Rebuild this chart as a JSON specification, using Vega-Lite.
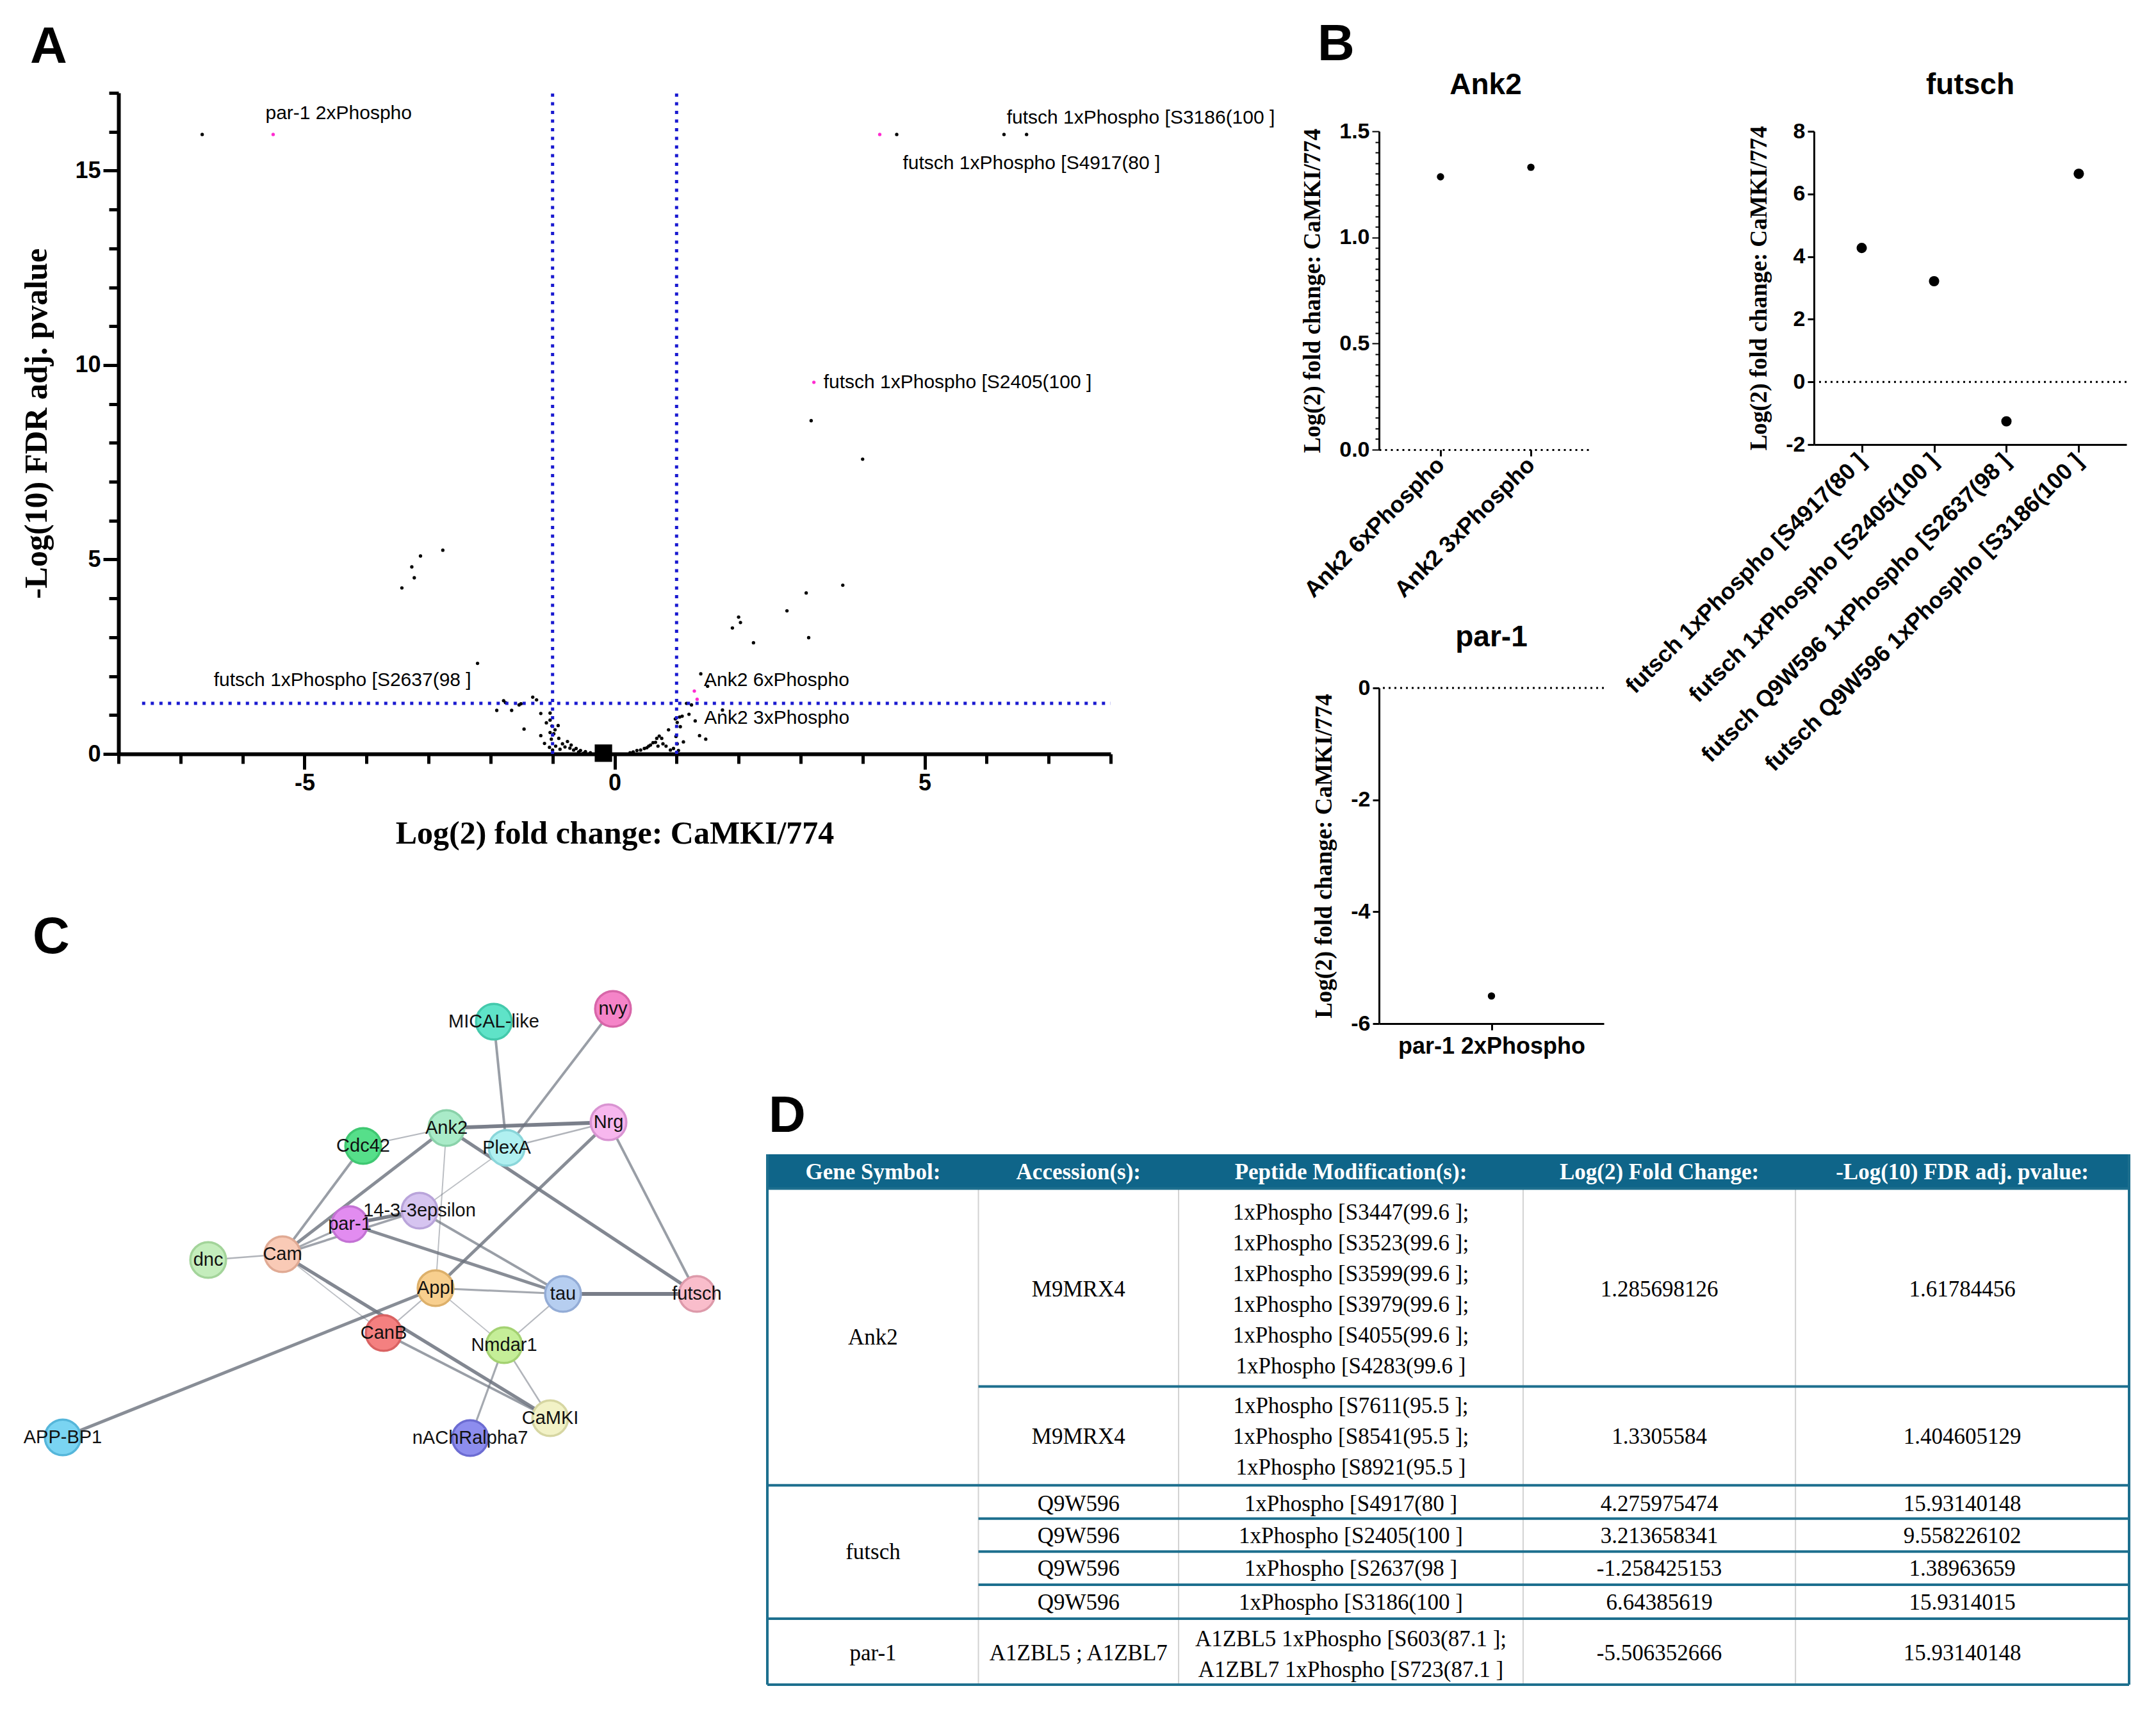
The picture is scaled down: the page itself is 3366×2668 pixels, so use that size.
{
"$schema": "https://vega.github.io/schema/vega-lite/v6.json",
"background": "white",
"padding": {"left": 32, "top": 30, "right": 5, "bottom": 5},
"config": {
  "view": {"stroke": null},
  "axis": {"grid": false, "domainColor": "black", "tickColor": "black", "labelColor": "black", "titleColor": "black", "labelLimit": 2000, "labelOverlap": false},
  "title": {"color": "black"}
},
"datasets": {
  "volcano": [
    {"lfc": -6.65, "nlp": 15.93, "hl": "n"},
    {"lfc": -5.506, "nlp": 15.931, "hl": "y", "lab": "par-1 2xPhospho"},
    {"lfc": 4.276, "nlp": 15.931, "hl": "y", "lab": "futsch 1xPhospho [S4917(80 ]"},
    {"lfc": 4.55, "nlp": 15.93, "hl": "n"},
    {"lfc": 6.28, "nlp": 15.93, "hl": "n"},
    {"lfc": 6.644, "nlp": 15.931, "hl": "n", "lab": "futsch 1xPhospho [S3186(100 ]"},
    {"lfc": 3.214, "nlp": 9.558, "hl": "y", "lab": "futsch 1xPhospho [S2405(100 ]"},
    {"lfc": 3.17, "nlp": 8.57, "hl": "n"},
    {"lfc": 4.0, "nlp": 7.58, "hl": "n"},
    {"lfc": -2.77, "nlp": 5.24, "hl": "n"},
    {"lfc": -3.13, "nlp": 5.09, "hl": "n"},
    {"lfc": -3.27, "nlp": 4.81, "hl": "n"},
    {"lfc": -3.23, "nlp": 4.53, "hl": "n"},
    {"lfc": -3.43, "nlp": 4.27, "hl": "n"},
    {"lfc": 3.68, "nlp": 4.34, "hl": "n"},
    {"lfc": 3.09, "nlp": 4.14, "hl": "n"},
    {"lfc": 2.78, "nlp": 3.68, "hl": "n"},
    {"lfc": 2.0, "nlp": 3.52, "hl": "n"},
    {"lfc": 2.03, "nlp": 3.38, "hl": "n"},
    {"lfc": 1.9, "nlp": 3.24, "hl": "n"},
    {"lfc": 3.13, "nlp": 2.99, "hl": "n"},
    {"lfc": 2.24, "nlp": 2.86, "hl": "n"},
    {"lfc": -2.21, "nlp": 2.33, "hl": "n"},
    {"lfc": 1.39, "nlp": 2.06, "hl": "n"},
    {"lfc": 1.5, "nlp": 1.74, "hl": "n"},
    {"lfc": 1.286, "nlp": 1.618, "hl": "y", "lab": "Ank2 6xPhospho"},
    {"lfc": 1.331, "nlp": 1.405, "hl": "y", "lab": "Ank2 3xPhospho"},
    {"lfc": -1.258, "nlp": 1.39, "hl": "n", "lab": "futsch 1xPhospho [S2637(98 ]"},
    {"lfc": -1.32, "nlp": 1.46, "hl": "n"},
    {"lfc": -1.79, "nlp": 1.37, "hl": "n"},
    {"lfc": -1.76, "nlp": 1.32, "hl": "n"},
    {"lfc": -1.9, "nlp": 1.12, "hl": "n"},
    {"lfc": -1.66, "nlp": 1.12, "hl": "n"},
    {"lfc": -1.54, "nlp": 1.26, "hl": "n"},
    {"lfc": -1.51, "nlp": 1.29, "hl": "n"},
    {"lfc": -1.19, "nlp": 1.04, "hl": "n"},
    {"lfc": -1.04, "nlp": 1.05, "hl": "n"},
    {"lfc": -1.46, "nlp": 0.64, "hl": "n"},
    {"lfc": -1.19, "nlp": 0.47, "hl": "n"},
    {"lfc": -1.13, "nlp": 0.27, "hl": "n"},
    {"lfc": -1.05, "nlp": 0.17, "hl": "n"},
    {"lfc": -1.04, "nlp": 0.87, "hl": "n"},
    {"lfc": -1.01, "nlp": 0.72, "hl": "n"},
    {"lfc": -0.91, "nlp": 0.73, "hl": "n"},
    {"lfc": -1.04, "nlp": 0.55, "hl": "n"},
    {"lfc": -0.98, "nlp": 0.52, "hl": "n"},
    {"lfc": -1.02, "nlp": 0.38, "hl": "n"},
    {"lfc": -0.9, "nlp": 0.4, "hl": "n"},
    {"lfc": -0.84, "nlp": 0.26, "hl": "n"},
    {"lfc": -0.76, "nlp": 0.32, "hl": "n"},
    {"lfc": -0.7, "nlp": 0.23, "hl": "n"},
    {"lfc": -0.62, "nlp": 0.14, "hl": "n"},
    {"lfc": -0.55, "nlp": 0.09, "hl": "n"},
    {"lfc": -0.47, "nlp": 0.06, "hl": "n"},
    {"lfc": -0.39, "nlp": 0.03, "hl": "n"},
    {"lfc": -0.8, "nlp": 0.18, "hl": "n"},
    {"lfc": -0.66, "nlp": 0.1, "hl": "n"},
    {"lfc": -0.72, "nlp": 0.15, "hl": "n"},
    {"lfc": -0.95, "nlp": 0.2, "hl": "n"},
    {"lfc": -0.88, "nlp": 0.12, "hl": "n"},
    {"lfc": -0.58, "nlp": 0.05, "hl": "n"},
    {"lfc": -0.5, "nlp": 0.02, "hl": "n"},
    {"lfc": -1.0, "nlp": 0.1, "hl": "n"},
    {"lfc": -0.96, "nlp": 0.62, "hl": "n"},
    {"lfc": -1.1, "nlp": 0.8, "hl": "n"},
    {"lfc": 0.36, "nlp": 0.09, "hl": "n"},
    {"lfc": 0.48, "nlp": 0.14, "hl": "n"},
    {"lfc": 0.58, "nlp": 0.23, "hl": "n"},
    {"lfc": 0.62, "nlp": 0.29, "hl": "n"},
    {"lfc": 0.68, "nlp": 0.4, "hl": "n"},
    {"lfc": 0.72, "nlp": 0.46, "hl": "n"},
    {"lfc": 0.76, "nlp": 0.4, "hl": "n"},
    {"lfc": 0.78, "nlp": 0.26, "hl": "n"},
    {"lfc": 0.83, "nlp": 0.2, "hl": "n"},
    {"lfc": 0.87, "nlp": 0.62, "hl": "n"},
    {"lfc": 0.95, "nlp": 0.14, "hl": "n"},
    {"lfc": 0.99, "nlp": 0.45, "hl": "n"},
    {"lfc": 1.01, "nlp": 0.81, "hl": "n"},
    {"lfc": 1.05, "nlp": 0.95, "hl": "n"},
    {"lfc": 1.09, "nlp": 0.97, "hl": "n"},
    {"lfc": 1.01, "nlp": 0.26, "hl": "n"},
    {"lfc": 1.11, "nlp": 0.31, "hl": "n"},
    {"lfc": 1.03, "nlp": 0.09, "hl": "n"},
    {"lfc": 1.16, "nlp": 1.3, "hl": "n"},
    {"lfc": 1.24, "nlp": 1.26, "hl": "n"},
    {"lfc": 1.3, "nlp": 0.85, "hl": "n"},
    {"lfc": 1.74, "nlp": 1.13, "hl": "n"},
    {"lfc": 1.37, "nlp": 0.47, "hl": "n"},
    {"lfc": 1.47, "nlp": 0.38, "hl": "n"},
    {"lfc": 0.3, "nlp": 0.05, "hl": "n"},
    {"lfc": 0.42, "nlp": 0.1, "hl": "n"},
    {"lfc": 0.52, "nlp": 0.16, "hl": "n"},
    {"lfc": 0.66, "nlp": 0.3, "hl": "n"},
    {"lfc": 0.7, "nlp": 0.2, "hl": "n"},
    {"lfc": 0.9, "nlp": 0.1, "hl": "n"},
    {"lfc": 0.55, "nlp": 0.2, "hl": "n"},
    {"lfc": 0.25, "nlp": 0.03, "hl": "n"},
    {"lfc": 1.2, "nlp": 1.02, "hl": "n"},
    {"lfc": 1.06, "nlp": 0.7, "hl": "n"},
    {"lfc": 0.98, "nlp": 0.9, "hl": "n"}
  ],
  "ank2": [
    {"pep": "Ank2 6xPhospho", "lfc": 1.285698126},
    {"pep": "Ank2 3xPhospho", "lfc": 1.3305584}
  ],
  "futsch": [
    {"pep": "futsch 1xPhospho [S4917(80 ]", "lfc": 4.275975474},
    {"pep": "futsch 1xPhospho [S2405(100 ]", "lfc": 3.213658341},
    {"pep": "futsch Q9W596 1xPhospho [S2637(98 ]", "lfc": -1.258425153},
    {"pep": "futsch Q9W596 1xPhospho [S3186(100 ]", "lfc": 6.64385619}
  ],
  "par1": [
    {"pep": "par-1 2xPhospho", "lfc": -5.506352666}
  ],
  "nodes": [
    {"id": "MICAL-like", "x": 67.4, "y": 2.3},
    {"id": "nvy", "x": 86.0, "y": 0.3},
    {"id": "Ank2", "x": 60.0, "y": 18.9},
    {"id": "Nrg", "x": 85.3, "y": 18.0},
    {"id": "Cdc42", "x": 47.0, "y": 21.7},
    {"id": "PlexA", "x": 69.4, "y": 22.0},
    {"id": "14-3-3epsilon", "x": 55.8, "y": 31.8},
    {"id": "par-1", "x": 44.9, "y": 33.9},
    {"id": "dnc", "x": 22.8, "y": 39.5},
    {"id": "Cam", "x": 34.4, "y": 38.6},
    {"id": "Appl", "x": 58.3, "y": 43.9},
    {"id": "tau", "x": 78.2, "y": 44.8},
    {"id": "futsch", "x": 99.1, "y": 44.8},
    {"id": "CanB", "x": 50.2, "y": 50.9},
    {"id": "Nmdar1", "x": 69.0, "y": 52.8},
    {"id": "CaMKI", "x": 76.2, "y": 64.2},
    {"id": "nAChRalpha7", "x": 63.7, "y": 67.3},
    {"id": "APP-BP1", "x": 0.1, "y": 67.2}
  ],
  "edges": [
    {"s": "MICAL-like", "t": "PlexA", "w": 0.7},
    {"s": "nvy", "t": "PlexA", "w": 0.7},
    {"s": "Ank2", "t": "Nrg", "w": 0.97},
    {"s": "PlexA", "t": "Nrg", "w": 0.5},
    {"s": "Ank2", "t": "Cdc42", "w": 0.45},
    {"s": "Ank2", "t": "Cam", "w": 0.85},
    {"s": "Cdc42", "t": "Cam", "w": 0.7},
    {"s": "Ank2", "t": "Appl", "w": 0.42},
    {"s": "Ank2", "t": "futsch", "w": 0.9},
    {"s": "PlexA", "t": "14-3-3epsilon", "w": 0.4},
    {"s": "Nrg", "t": "Appl", "w": 0.85},
    {"s": "Nrg", "t": "futsch", "w": 0.7},
    {"s": "par-1", "t": "14-3-3epsilon", "w": 0.97},
    {"s": "Cam", "t": "14-3-3epsilon", "w": 0.65},
    {"s": "Cam", "t": "par-1", "w": 0.6},
    {"s": "14-3-3epsilon", "t": "tau", "w": 0.7},
    {"s": "par-1", "t": "tau", "w": 0.85},
    {"s": "dnc", "t": "Cam", "w": 0.5},
    {"s": "Cam", "t": "CanB", "w": 0.4},
    {"s": "Cam", "t": "CaMKI", "w": 0.9},
    {"s": "Appl", "t": "tau", "w": 0.6},
    {"s": "Appl", "t": "CanB", "w": 0.45},
    {"s": "Appl", "t": "Nmdar1", "w": 0.4},
    {"s": "Appl", "t": "APP-BP1", "w": 0.85},
    {"s": "tau", "t": "futsch", "w": 0.99},
    {"s": "tau", "t": "Nmdar1", "w": 0.45},
    {"s": "CanB", "t": "CaMKI", "w": 0.7},
    {"s": "Nmdar1", "t": "CaMKI", "w": 0.5},
    {"s": "Nmdar1", "t": "nAChRalpha7", "w": 0.6}
  ],
  "cols": [
    {"col": "gene", "cx": 7.76},
    {"col": "acc", "cx": 22.85},
    {"col": "mod", "cx": 42.85},
    {"col": "lfc", "cx": 65.5},
    {"col": "p", "cx": 87.75}
  ],
  "header": [
    {"col": "gene", "ln": 0.58, "t": "Gene Symbol:"},
    {"col": "acc", "ln": 0.58, "t": "Accession(s):"},
    {"col": "mod", "ln": 0.58, "t": "Peptide Modification(s):"},
    {"col": "lfc", "ln": 0.58, "t": "Log(2) Fold Change:"},
    {"col": "p", "ln": 0.58, "t": "-Log(10) FDR adj. pvalue:"}
  ],
  "cells": [
    {"col": "gene", "ln": 5.94, "t": "Ank2"},
    {"col": "gene", "ln": 12.89, "t": "futsch"},
    {"col": "gene", "ln": 16.17, "t": "par-1"},
    {"col": "acc", "ln": 4.38, "t": "M9MRX4"},
    {"col": "acc", "ln": 9.15, "t": "M9MRX4"},
    {"col": "acc", "ln": 11.32, "t": "Q9W596"},
    {"col": "acc", "ln": 12.36, "t": "Q9W596"},
    {"col": "acc", "ln": 13.43, "t": "Q9W596"},
    {"col": "acc", "ln": 14.52, "t": "Q9W596"},
    {"col": "acc", "ln": 16.17, "t": "A1ZBL5 ; A1ZBL7"},
    {"col": "mod", "ln": 1.88, "t": "1xPhospho [S3447(99.6 ];"},
    {"col": "mod", "ln": 2.88, "t": "1xPhospho [S3523(99.6 ];"},
    {"col": "mod", "ln": 3.88, "t": "1xPhospho [S3599(99.6 ];"},
    {"col": "mod", "ln": 4.88, "t": "1xPhospho [S3979(99.6 ];"},
    {"col": "mod", "ln": 5.88, "t": "1xPhospho [S4055(99.6 ];"},
    {"col": "mod", "ln": 6.87, "t": "1xPhospho [S4283(99.6 ]"},
    {"col": "mod", "ln": 8.15, "t": "1xPhospho [S7611(95.5 ];"},
    {"col": "mod", "ln": 9.15, "t": "1xPhospho [S8541(95.5 ];"},
    {"col": "mod", "ln": 10.15, "t": "1xPhospho [S8921(95.5 ]"},
    {"col": "mod", "ln": 11.32, "t": "1xPhospho [S4917(80 ]"},
    {"col": "mod", "ln": 12.36, "t": "1xPhospho [S2405(100 ]"},
    {"col": "mod", "ln": 13.43, "t": "1xPhospho [S2637(98 ]"},
    {"col": "mod", "ln": 14.52, "t": "1xPhospho [S3186(100 ]"},
    {"col": "mod", "ln": 15.71, "t": "A1ZBL5 1xPhospho [S603(87.1 ];"},
    {"col": "mod", "ln": 16.71, "t": "A1ZBL7 1xPhospho [S723(87.1 ]"},
    {"col": "lfc", "ln": 4.38, "t": "1.285698126"},
    {"col": "lfc", "ln": 9.15, "t": "1.3305584"},
    {"col": "lfc", "ln": 11.32, "t": "4.275975474"},
    {"col": "lfc", "ln": 12.36, "t": "3.213658341"},
    {"col": "lfc", "ln": 13.43, "t": "-1.258425153"},
    {"col": "lfc", "ln": 14.52, "t": "6.64385619"},
    {"col": "lfc", "ln": 16.17, "t": "-5.506352666"},
    {"col": "p", "ln": 4.38, "t": "1.61784456"},
    {"col": "p", "ln": 9.15, "t": "1.404605129"},
    {"col": "p", "ln": 11.32, "t": "15.93140148"},
    {"col": "p", "ln": 12.36, "t": "9.558226102"},
    {"col": "p", "ln": 13.43, "t": "1.38963659"},
    {"col": "p", "ln": 14.52, "t": "15.9314015"},
    {"col": "p", "ln": 16.17, "t": "15.93140148"}
  ],
  "hlines": [
    {"y": 1.11, "a": 0, "b": 100},
    {"y": 7.52, "a": 15.5, "b": 100},
    {"y": 10.72, "a": 0, "b": 100},
    {"y": 11.8, "a": 15.5, "b": 100},
    {"y": 12.87, "a": 15.5, "b": 100},
    {"y": 13.94, "a": 15.5, "b": 100},
    {"y": 15.04, "a": 0, "b": 100},
    {"y": 17.18, "a": 0, "b": 100}
  ],
  "vlines": [
    {"x": 15.5}, {"x": 30.2}, {"x": 55.5}, {"x": 75.5}
  ]
},
"bounds": "flush",
"spacing": 1013,
"hconcat": [
  {
    "bounds": "flush",
    "spacing": 365,
    "vconcat": [
      {
        "width": 1549,
        "height": 1032,
        "title": {"text": "A", "anchor": "start", "frame": "group", "dx": -138, "offset": 0, "dy": 35, "baseline": "alphabetic", "font": "Liberation Sans", "fontSize": 80, "fontWeight": "bold"},
        "data": {"name": "volcano"},
        "layer": [
          {
            "mark": {"type": "circle", "size": 28, "opacity": 1},
            "encoding": {
              "x": {"field": "lfc", "type": "quantitative",
                "scale": {"domain": [-8, 8], "nice": false, "zero": false},
                "axis": {"title": "Log(2) fold change: CaMKI/774", "titleFont": "Liberation Serif", "titleFontSize": 50, "titleFontWeight": "bold", "titlePadding": 36,
                  "values": [-8,-7,-6,-5,-4,-3,-2,-1,0,1,2,3,4,5,6,7,8],
                  "labelExpr": "datum.value % 5 === 0 ? '' + datum.value : ''",
                  "labelFont": "Liberation Sans", "labelFontWeight": "bold", "labelPadding": 4,
                  "labelFontSize": {"condition": {"test": "datum.value % 5 === 0", "value": 36}, "value": 0},
                  "domainWidth": 6, "tickWidth": 5,
                  "tickSize": {"condition": {"test": "datum.value % 5 === 0", "value": 24}, "value": 15}}},
              "y": {"field": "nlp", "type": "quantitative",
                "scale": {"domain": [0, 17], "nice": false, "zero": false},
                "axis": {"title": "-Log(10) FDR adj. pvalue", "titleFont": "Liberation Serif", "titleFontSize": 50, "titleFontWeight": "bold", "titlePadding": 34,
                  "values": [0,1,2,3,4,5,6,7,8,9,10,11,12,13,14,15,16,17],
                  "labelExpr": "datum.value % 5 === 0 ? '' + datum.value : ''",
                  "labelFont": "Liberation Sans", "labelFontWeight": "bold", "labelPadding": 4,
                  "labelFontSize": {"condition": {"test": "datum.value % 5 === 0", "value": 36}, "value": 0},
                  "domainWidth": 6, "tickWidth": 5,
                  "tickSize": {"condition": {"test": "datum.value % 5 === 0", "value": 24}, "value": 15}}},
              "color": {"field": "hl", "type": "nominal", "scale": {"domain": ["n", "y"], "range": ["#000000", "#ff2bd0"]}, "legend": null}
            }
          },
          {
            "data": {"values": [{}]},
            "mark": {"type": "rule", "color": "#1a1ad0", "strokeWidth": 5, "strokeDash": [5, 8.5]},
            "encoding": {"x": {"datum": -1}, "y": {"datum": 0}, "y2": {"datum": 17}}
          },
          {
            "data": {"values": [{}]},
            "mark": {"type": "rule", "color": "#1a1ad0", "strokeWidth": 5, "strokeDash": [5, 8.5]},
            "encoding": {"x": {"datum": 1}, "y": {"datum": 0}, "y2": {"datum": 17}}
          },
          {
            "data": {"values": [{}]},
            "mark": {"type": "rule", "color": "#1a1ad0", "strokeWidth": 5, "strokeDash": [5, 8.5]},
            "encoding": {"x": {"datum": -7.62}, "x2": {"datum": 8}, "y": {"datum": 1.301}}
          },
          {
            "data": {"values": [{"lfc": -0.18, "nlp": 0.02}]},
            "mark": {"type": "point", "shape": "square", "filled": true, "size": 740, "color": "black", "opacity": 1},
            "encoding": {"x": {"field": "lfc", "type": "quantitative"}, "y": {"field": "nlp", "type": "quantitative"}}
          },
          {
            "transform": [{"filter": "datum.lab === 'par-1 2xPhospho'"}],
            "mark": {"type": "text", "align": "left", "baseline": "middle", "dx": -12, "dy": -33, "font": "Liberation Sans", "fontSize": 30, "color": "black"},
            "encoding": {"x": {"field": "lfc", "type": "quantitative"}, "y": {"field": "nlp", "type": "quantitative"}, "text": {"field": "lab"}}
          },
          {
            "transform": [{"filter": "datum.lab === 'futsch 1xPhospho [S3186(100 ]'"}],
            "mark": {"type": "text", "align": "left", "baseline": "middle", "dx": -31, "dy": -26, "font": "Liberation Sans", "fontSize": 30, "color": "black"},
            "encoding": {"x": {"field": "lfc", "type": "quantitative"}, "y": {"field": "nlp", "type": "quantitative"}, "text": {"field": "lab"}}
          },
          {
            "transform": [{"filter": "datum.lab === 'futsch 1xPhospho [S4917(80 ]'"}],
            "mark": {"type": "text", "align": "left", "baseline": "middle", "dx": 36, "dy": 45, "font": "Liberation Sans", "fontSize": 30, "color": "black"},
            "encoding": {"x": {"field": "lfc", "type": "quantitative"}, "y": {"field": "nlp", "type": "quantitative"}, "text": {"field": "lab"}}
          },
          {
            "transform": [{"filter": "datum.lab === 'futsch 1xPhospho [S2405(100 ]'"}],
            "mark": {"type": "text", "align": "left", "baseline": "middle", "dx": 15, "dy": 0, "font": "Liberation Sans", "fontSize": 30, "color": "black"},
            "encoding": {"x": {"field": "lfc", "type": "quantitative"}, "y": {"field": "nlp", "type": "quantitative"}, "text": {"field": "lab"}}
          },
          {
            "transform": [{"filter": "datum.lab === 'futsch 1xPhospho [S2637(98 ]'"}],
            "mark": {"type": "text", "align": "right", "baseline": "middle", "dx": -102, "dy": -31, "font": "Liberation Sans", "fontSize": 30, "color": "black"},
            "encoding": {"x": {"field": "lfc", "type": "quantitative"}, "y": {"field": "nlp", "type": "quantitative"}, "text": {"field": "lab"}}
          },
          {
            "transform": [{"filter": "datum.lab === 'Ank2 6xPhospho'"}],
            "mark": {"type": "text", "align": "left", "baseline": "middle", "dx": 15, "dy": -17, "font": "Liberation Sans", "fontSize": 30, "color": "black"},
            "encoding": {"x": {"field": "lfc", "type": "quantitative"}, "y": {"field": "nlp", "type": "quantitative"}, "text": {"field": "lab"}}
          },
          {
            "transform": [{"filter": "datum.lab === 'Ank2 3xPhospho'"}],
            "mark": {"type": "text", "align": "left", "baseline": "middle", "dx": 11, "dy": 29, "font": "Liberation Sans", "fontSize": 30, "color": "black"},
            "encoding": {"x": {"field": "lfc", "type": "quantitative"}, "y": {"field": "nlp", "type": "quantitative"}, "text": {"field": "lab"}}
          }
        ]
      },
      {
        "width": 962,
        "height": 740,
        "title": {"text": "C", "anchor": "start", "frame": "group", "dx": -134, "offset": 0, "dy": 28, "baseline": "alphabetic", "font": "Liberation Sans", "fontSize": 80, "fontWeight": "bold"},
        "layer": [
          {
            "data": {"name": "edges"},
            "transform": [
              {"lookup": "s", "from": {"data": {"name": "nodes"}, "key": "id", "fields": ["x", "y"]}, "as": ["sx", "sy"]},
              {"lookup": "t", "from": {"data": {"name": "nodes"}, "key": "id", "fields": ["x", "y"]}, "as": ["tx", "ty"]}
            ],
            "mark": {"type": "rule", "color": "#6b717d"},
            "encoding": {
              "x": {"field": "sx", "type": "quantitative", "scale": {"domain": [8.8, 105], "nice": false, "zero": false}, "axis": null},
              "y": {"field": "sy", "type": "quantitative", "scale": {"domain": [-3, 71], "nice": false, "zero": false, "reverse": true}, "axis": null},
              "x2": {"field": "tx"},
              "y2": {"field": "ty"},
              "strokeWidth": {"field": "w", "type": "quantitative", "scale": {"domain": [0.4, 1], "range": [1.8, 6]}, "legend": null},
              "strokeOpacity": {"field": "w", "type": "quantitative", "scale": {"domain": [0.4, 1], "range": [0.45, 0.92]}, "legend": null}
            }
          },
          {
            "data": {"name": "nodes"},
            "mark": {"type": "circle", "size": 3100, "strokeWidth": 3.5, "opacity": 1, "fillOpacity": 1, "strokeOpacity": 1},
            "encoding": {
              "x": {"field": "x", "type": "quantitative", "scale": {"domain": [8.8, 105], "nice": false, "zero": false}, "axis": null},
              "y": {"field": "y", "type": "quantitative", "scale": {"domain": [-3, 71], "nice": false, "zero": false, "reverse": true}, "axis": null},
              "fill": {"field": "id", "type": "nominal", "legend": null, "scale": {
                "domain": ["MICAL-like", "nvy", "Ank2", "Nrg", "Cdc42", "PlexA", "14-3-3epsilon", "par-1", "dnc", "Cam", "Appl", "tau", "futsch", "CanB", "Nmdar1", "CaMKI", "nAChRalpha7", "APP-BP1"],
                "range": ["#5fe3c8", "#f584c8", "#a9ebc8", "#f7b7ee", "#56df8a", "#b0f0f0", "#d6c4f0", "#e28cf0", "#c4edbc", "#f9cab6", "#f8cf8e", "#b6cef0", "#f9bdcb", "#f48080", "#c5ee98", "#f2f2c6", "#8d8dee", "#7ad4f2"]}},
              "stroke": {"field": "id", "type": "nominal", "legend": null, "scale": {
                "domain": ["MICAL-like", "nvy", "Ank2", "Nrg", "Cdc42", "PlexA", "14-3-3epsilon", "par-1", "dnc", "Cam", "Appl", "tau", "futsch", "CanB", "Nmdar1", "CaMKI", "nAChRalpha7", "APP-BP1"],
                "range": ["#44c9ac", "#d866a9", "#8ad2aa", "#d994d2", "#3fc872", "#8ad6da", "#b9a4da", "#c372d4", "#a3d49a", "#e0aa94", "#ddb06a", "#93acd6", "#dd9aaa", "#d96262", "#a4d272", "#d6d6a2", "#6c6cd2", "#55b6da"]}}
            }
          },
          {
            "data": {"name": "nodes"},
            "mark": {"type": "text", "font": "Liberation Sans", "fontSize": 29, "color": "#111111", "align": "center", "baseline": "middle"},
            "encoding": {
              "x": {"field": "x", "type": "quantitative", "scale": {"domain": [8.8, 105], "nice": false, "zero": false}, "axis": null},
              "y": {"field": "y", "type": "quantitative", "scale": {"domain": [-3, 71], "nice": false, "zero": false, "reverse": true}, "axis": null},
              "text": {"field": "id"}
            }
          }
        ]
      }
    ]
  },
  {
    "bounds": "flush",
    "spacing": 1657,
    "vconcat": [
      {
        "bounds": "flush",
        "columns": 3,
        "spacing": {"row": 20, "column": 328},
        "align": "each",
        "concat": [
          {"width": 627, "height": 40, "data": {"values": [{}]}, "mark": {"type": "point", "opacity": 0}, "encoding": {}},
          {"width": 333, "height": 40, "data": {"values": [{}]}, "mark": {"type": "point", "opacity": 0}, "encoding": {},
           "title": {"text": "B", "anchor": "start", "frame": "group", "dx": -96, "offset": 0, "dy": 29, "baseline": "alphabetic", "font": "Liberation Sans", "fontSize": 80, "fontWeight": "bold"}},
          {"width": 10, "height": 40, "data": {"values": [{}]}, "mark": {"type": "point", "opacity": 0}, "encoding": {}},
          {"width": 627, "height": 849, "data": {"values": [{}]}, "mark": {"type": "point", "opacity": 0}, "encoding": {}},
          {
            "width": 333,
            "height": 497,
            "title": {"text": "Ank2", "anchor": "middle", "frame": "group", "offset": 6, "dy": 11, "baseline": "alphabetic", "font": "Liberation Sans", "fontSize": 46, "fontWeight": "bold"},
            "data": {"name": "ank2"},
            "mark": {"type": "circle", "size": 130, "color": "black", "opacity": 1},
            "encoding": {
              "x": {"field": "pep", "type": "nominal", "sort": ["Ank2 6xPhospho", "Ank2 3xPhospho"],
                "scale": {"type": "point", "padding": 0.68},
                "axis": {"title": null, "domain": true, "domainDash": [3, 6], "domainWidth": 3, "domainColor": "black", "tickSize": 10, "tickWidth": 3, "labelAngle": -45, "labelAlign": "right", "labelBaseline": "middle", "labelPadding": 8, "labelLimit": 2000,
                  "labelFont": "Liberation Sans", "labelFontWeight": "bold", "labelFontSize": 36}},
              "y": {"field": "lfc", "type": "quantitative",
                "scale": {"domain": [0, 1.5], "nice": false, "zero": false},
                "axis": {"title": "Log(2) fold change: CaMKI/774", "titleFont": "Liberation Serif", "titleFontSize": 37, "titleFontWeight": "bold", "titlePadding": 22,
                  "values": [0,0.05,0.1,0.15,0.2,0.25,0.3,0.35,0.4,0.45,0.5,0.55,0.6,0.65,0.7,0.75,0.8,0.85,0.9,0.95,1,1.05,1.1,1.15,1.2,1.25,1.3,1.35,1.4,1.45,1.5],
                  "labelExpr": "abs(datum.value*2 - round(datum.value*2)) < 0.001 ? format(datum.value, '.1f') : ''",
                  "labelOverlap": false,
                  "labelFontSize": {"condition": {"test": "abs(datum.value*2 - round(datum.value*2)) < 0.001", "value": 34}, "value": 0},
                  "tickSize": {"condition": {"test": "abs(datum.value*2 - round(datum.value*2)) < 0.001", "value": 11}, "value": 6},
                  "domainWidth": 3, "tickWidth": 2,
                  "labelFont": "Liberation Sans", "labelFontWeight": "bold", "labelPadding": 4}}
            }
          },
          {
            "width": 488,
            "height": 489,
            "title": {"text": "futsch", "anchor": "middle", "frame": "group", "offset": 6, "dy": 11, "baseline": "alphabetic", "font": "Liberation Sans", "fontSize": 46, "fontWeight": "bold"},
            "data": {"name": "futsch"},
            "layer": [
              {
                "mark": {"type": "circle", "size": 260, "color": "black", "opacity": 1},
                "encoding": {
                  "x": {"field": "pep", "type": "nominal",
                    "sort": ["futsch 1xPhospho [S4917(80 ]", "futsch 1xPhospho [S2405(100 ]", "futsch Q9W596 1xPhospho [S2637(98 ]", "futsch Q9W596 1xPhospho [S3186(100 ]"],
                    "scale": {"type": "point", "padding": 0.66},
                    "axis": {"title": null, "domain": true, "domainWidth": 3, "tickSize": 12, "tickWidth": 3, "labelAngle": -45, "labelAlign": "right", "labelBaseline": "middle", "labelPadding": 8, "labelLimit": 2000,
                      "labelFont": "Liberation Sans", "labelFontWeight": "bold", "labelFontSize": 36}},
                  "y": {"field": "lfc", "type": "quantitative",
                    "scale": {"domain": [-2, 8], "nice": false, "zero": false},
                    "axis": {"title": "Log(2) fold change: CaMKI/774", "titleFont": "Liberation Serif", "titleFontSize": 37, "titleFontWeight": "bold", "titlePadding": 22,
                      "values": [-2, 0, 2, 4, 6, 8],
                      "labelExpr": "'' + datum.value",
                      "tickSize": 10, "domainWidth": 3, "tickWidth": 3,
                      "labelFont": "Liberation Sans", "labelFontWeight": "bold", "labelFontSize": 34, "labelPadding": 4}}
                }
              },
              {
                "data": {"values": [{}]},
                "mark": {"type": "rule", "color": "black", "strokeWidth": 3, "strokeDash": [3, 6]},
                "encoding": {"y": {"datum": 0}}
              }
            ]
          },
          {"width": 627, "height": 708, "data": {"values": [{}]}, "mark": {"type": "point", "opacity": 0}, "encoding": {}},
          {
            "width": 351,
            "height": 524,
            "title": {"text": "par-1", "anchor": "middle", "frame": "group", "offset": 8, "dy": 6, "baseline": "alphabetic", "font": "Liberation Sans", "fontSize": 46, "fontWeight": "bold"},
            "data": {"name": "par1"},
            "layer": [
              {
                "mark": {"type": "circle", "size": 130, "color": "black", "opacity": 1},
                "encoding": {
                  "x": {"field": "pep", "type": "nominal",
                    "scale": {"type": "point", "padding": 0.5},
                    "axis": {"title": null, "domain": true, "domainWidth": 3, "tickSize": 10, "tickWidth": 3, "labelAngle": 0, "labelPadding": 8, "labelLimit": 2000,
                      "labelFont": "Liberation Sans", "labelFontWeight": "bold", "labelFontSize": 36}},
                  "y": {"field": "lfc", "type": "quantitative",
                    "scale": {"domain": [-6, 0], "nice": false, "zero": false},
                    "axis": {"title": "Log(2) fold change: CaMKI/774", "titleFont": "Liberation Serif", "titleFontSize": 37, "titleFontWeight": "bold", "titlePadding": 22,
                      "values": [-6, -4, -2, 0],
                      "labelExpr": "'' + datum.value",
                      "tickSize": 10, "domainWidth": 3, "tickWidth": 3,
                      "labelFont": "Liberation Sans", "labelFontWeight": "bold", "labelFontSize": 34, "labelPadding": 4}}
                }
              },
              {
                "data": {"values": [{}]},
                "mark": {"type": "rule", "color": "black", "strokeWidth": 3, "strokeDash": [3, 6]},
                "encoding": {"y": {"datum": 0}}
              }
            ]
          },
          {"width": 10, "height": 10, "data": {"values": [{}]}, "mark": {"type": "point", "opacity": 0}, "encoding": {}}
        ]
      },
      {
        "width": 2126,
        "height": 829,
        "title": {"text": "D", "anchor": "start", "frame": "group", "dx": 2, "offset": 0, "dy": 47, "baseline": "alphabetic", "font": "Liberation Sans", "fontSize": 80, "fontWeight": "bold"},
        "layer": [
          {
            "data": {"values": [{"x0": 0, "x1": 100, "y0": 0, "y1": 1.11}]},
            "mark": {"type": "rect", "color": "#0f6589"},
            "encoding": {
              "x": {"field": "x0", "type": "quantitative", "scale": {"domain": [0, 100], "nice": false, "zero": false}, "axis": null},
              "x2": {"field": "x1"},
              "y": {"field": "y0", "type": "quantitative", "scale": {"domain": [0, 17.2], "nice": false, "zero": false, "reverse": true}, "axis": null},
              "y2": {"field": "y1"}
            }
          },
          {
            "data": {"name": "vlines"},
            "mark": {"type": "rule", "color": "#d2d2d2", "strokeWidth": 2},
            "encoding": {
              "x": {"field": "x", "type": "quantitative"},
              "y": {"datum": 1.11},
              "y2": {"datum": 17.18}
            }
          },
          {
            "data": {"values": [{"x": 0}, {"x": 100}]},
            "mark": {"type": "rule", "color": "#1d6f8e", "strokeWidth": 4},
            "encoding": {
              "x": {"field": "x", "type": "quantitative"},
              "y": {"datum": 0},
              "y2": {"datum": 17.18}
            }
          },
          {
            "data": {"name": "hlines"},
            "mark": {"type": "rule", "color": "#1d6f8e", "strokeWidth": 4},
            "encoding": {
              "x": {"field": "a", "type": "quantitative"},
              "x2": {"field": "b"},
              "y": {"field": "y", "type": "quantitative"}
            }
          },
          {
            "data": {"name": "header"},
            "transform": [{"lookup": "col", "from": {"data": {"name": "cols"}, "key": "col", "fields": ["cx"]}}],
            "mark": {"type": "text", "font": "Liberation Serif", "fontWeight": "bold", "fontSize": 35, "color": "white", "align": "center", "baseline": "middle"},
            "encoding": {
              "x": {"field": "cx", "type": "quantitative"},
              "y": {"field": "ln", "type": "quantitative"},
              "text": {"field": "t"}
            }
          },
          {
            "data": {"name": "cells"},
            "transform": [{"lookup": "col", "from": {"data": {"name": "cols"}, "key": "col", "fields": ["cx"]}}],
            "mark": {"type": "text", "font": "Liberation Serif", "fontSize": 35, "color": "black", "align": "center", "baseline": "middle"},
            "encoding": {
              "x": {"field": "cx", "type": "quantitative"},
              "y": {"field": "ln", "type": "quantitative"},
              "text": {"field": "t"}
            }
          }
        ]
      }
    ]
  }
]
}
